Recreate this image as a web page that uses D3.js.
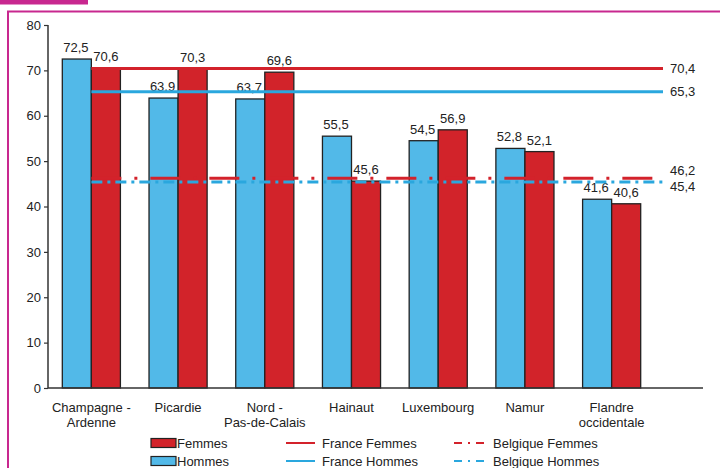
<!DOCTYPE html>
<html>
<head>
<meta charset="utf-8">
<script src="https://cdn.jsdelivr.net/npm/d3@7"></script>
<style>
  html, body { margin: 0; padding: 0; background: #fff; }
  svg { display: block; font-family: "Liberation Sans", Arial, sans-serif; }
</style>
</head>
<body>
<svg id="chart" width="720" height="468"></svg>
<script>
// Regions and their values (%)
const regions = [["Champagne -", "Ardenne"], ["Picardie"], ["Nord -", "Pas-de-Calais"], ["Hainaut"], ["Luxembourg"], ["Namur"], ["Flandre", "occidentale"]];
const hommes = [72.5, 63.9, 63.7, 55.5, 54.5, 52.8, 41.6];
const femmes = [70.6, 70.3, 69.6, 45.6, 56.9, 52.1, 40.6];
const franceFemmes = 70.4;
const franceHommes = 65.3;
const belgiqueFemmes = 46.2;
const belgiqueHommes = 45.4;
const yTicks = [0, 10, 20, 30, 40, 50, 60, 70, 80];

const RED = "#d2232a", BLUE = "#52b9e8", LRED = "#d3222b", LBLUE = "#2aa7de", MAGENTA = "#c8288f";
const FS = 13;
const fmt = v => d3.format(".1f")(v).replace(".", ",");

const svg = d3.select("#chart");

// Frame and header band
svg.append("rect").attr("x", 0).attr("y", 0).attr("width", 88).attr("height", 4.5).attr("fill", MAGENTA);
svg.append("path").attr("d", "M8,468 V11.5 H720").attr("fill", "none").attr("stroke", MAGENTA).attr("stroke-width", 2);

const x0 = 48, xEnd = 703;
const y = d3.scaleLinear().domain([0, 80]).range([388, 25]);
const xBand = d3.scaleBand().domain(d3.range(regions.length)).range([48, 655]).paddingInner(0.33).paddingOuter(0.165);
const xSub = d3.scaleBand().domain(["h", "f"]).range([0, xBand.bandwidth()]);

const g = svg.append("g");

// Y axis
const yAxis = d3.axisLeft(y).tickValues(yTicks).tickSize(4).tickPadding(3).tickFormat(d3.format("d"));
const ya = g.append("g").attr("transform", `translate(${x0},0)`).call(yAxis);
ya.select(".domain").attr("stroke", "#333").attr("stroke-width", 1.5).attr("d", `M0,${y(80)}V${y(0)}`);
ya.selectAll(".tick line").attr("stroke", "#333").attr("stroke-width", 1.2);
ya.selectAll(".tick text").attr("font-size", FS).attr("fill", "#222").attr("font-family", "Liberation Sans, Arial, sans-serif");

// Bars
const groups = g.selectAll(".grp").data(regions).enter().append("g")
  .attr("transform", (d, i) => `translate(${xBand(i)},0)`);

groups.append("rect")
  .attr("x", xSub("h")).attr("width", xSub.bandwidth())
  .attr("y", (d, i) => y(hommes[i])).attr("height", (d, i) => y(0) - y(hommes[i]))
  .attr("fill", BLUE).attr("stroke", "#222").attr("stroke-width", 1.3);
groups.append("rect")
  .attr("x", xSub("f")).attr("width", xSub.bandwidth())
  .attr("y", (d, i) => y(femmes[i])).attr("height", (d, i) => y(0) - y(femmes[i]))
  .attr("fill", RED).attr("stroke", "#222").attr("stroke-width", 1.3);

// X axis baseline
g.append("line").attr("x1", x0).attr("x2", xEnd).attr("y1", y(0)).attr("y2", y(0))
  .attr("stroke", "#333").attr("stroke-width", 1.5);

// Category labels
groups.each(function(d, i) {
  const t = d3.select(this).append("text")
    .attr("x", xBand.bandwidth() / 2).attr("y", 412)
    .attr("text-anchor", "middle").attr("font-size", FS).attr("fill", "#222");
  d.forEach((line, k) => t.append("tspan").attr("x", xBand.bandwidth() / 2).attr("dy", k === 0 ? 0 : 14.5).text(line));
});

// Reference lines
const lx1 = xBand(0) + xSub("f"), lx2 = 663;
const refs = [
  { v: franceFemmes, c: LRED, dash: null, dy: 4.5 },
  { v: franceHommes, c: LBLUE, dash: null, dy: 4.5 },
  { v: belgiqueFemmes, c: LRED, dash: "30,13,3,13", dy: -3.5 },
  { v: belgiqueHommes, c: LBLUE, dash: "11,5,3,5", dy: 9.5 }
];
refs.forEach(r => {
  g.append("line").attr("x1", lx1).attr("x2", lx2).attr("y1", y(r.v)).attr("y2", y(r.v))
    .attr("stroke", r.c).attr("stroke-width", 3).attr("stroke-dasharray", r.dash);
  g.append("text").attr("x", 670).attr("y", y(r.v) + r.dy)
    .attr("font-size", FS).attr("fill", "#222").text(fmt(r.v));
});

// Value labels
groups.append("text").attr("x", xSub("h") + xSub.bandwidth() / 2 - 1).attr("y", (d, i) => y(hommes[i]) - 7)
  .attr("text-anchor", "middle").attr("font-size", FS).attr("fill", "#222").text((d, i) => fmt(hommes[i]));
groups.append("text").attr("x", xSub("f") + xSub.bandwidth() / 2).attr("y", (d, i) => y(femmes[i]) - 7)
  .attr("text-anchor", "middle").attr("font-size", FS).attr("fill", "#222").text((d, i) => fmt(femmes[i]));

// Legend
const legend = svg.append("g");
const rows = [
  [{ type: "box", c: RED, label: "Femmes", x: 151 }, { type: "line", c: LRED, label: "France Femmes", x: 286 }, { type: "line", c: LRED, dash: "8,6,2,6", label: "Belgique Femmes", x: 454 }],
  [{ type: "box", c: BLUE, label: "Hommes", x: 151 }, { type: "line", c: LBLUE, label: "France Hommes", x: 286 }, { type: "line", c: LBLUE, dash: "8,6,2,6", label: "Belgique Hommes", x: 454 }]
];
rows.forEach((row, ri) => {
  const cy = 443 + ri * 18;
  row.forEach(it => {
    if (it.type === "box") {
      legend.append("rect").attr("x", it.x).attr("y", cy - 4.5).attr("width", 25).attr("height", 9)
        .attr("fill", it.c).attr("stroke", "#222").attr("stroke-width", 1.2);
      legend.append("text").attr("x", it.x + 26).attr("y", cy + 4.5).attr("font-size", FS).attr("fill", "#222").text(it.label);
    } else {
      legend.append("line").attr("x1", it.x).attr("x2", it.x + (it.dash ? 30 : 29)).attr("y1", cy).attr("y2", cy)
        .attr("stroke", it.c).attr("stroke-width", 2).attr("stroke-dasharray", it.dash || null);
      legend.append("text").attr("x", it.x + (it.dash ? 39 : 36)).attr("y", cy + 4.5).attr("font-size", FS).attr("fill", "#222").text(it.label);
    }
  });
});
</script>
</body>
</html>
